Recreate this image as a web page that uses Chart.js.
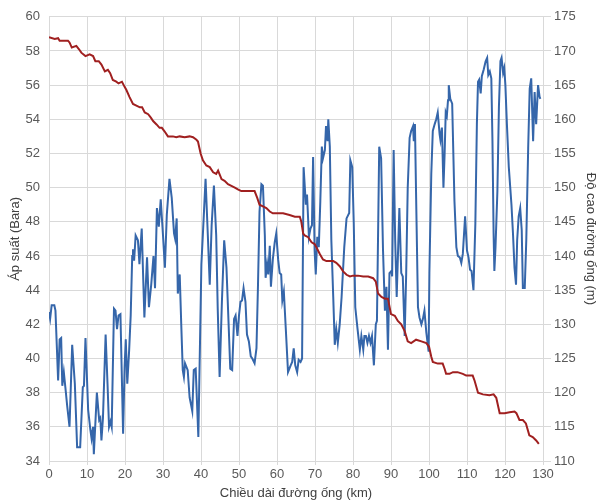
<!DOCTYPE html>
<html>
<head>
<meta charset="utf-8">
<script src="https://cdn.jsdelivr.net/npm/chart.js@4.4.1/dist/chart.umd.min.js"></script>
<style>
  html, body { margin: 0; padding: 0; background: #fff; }
  #wrap { width: 598px; height: 504px; position: relative; }
</style>
</head>
<body>
<div id="wrap"><canvas id="myChart"></canvas></div>
<script>
// pressure along the pipe (left axis, bar)
const pressureKm = [0, 1.5, 2.4, 2.8, 3.7, 5, 5.4, 6, 7.2, 7.9, 8.5, 9.6, 10.7, 11.6, 12.2, 13.1, 13.8, 14.7, 15.5, 16.1,
  16.8, 17.7, 18.3, 19.2, 19.9, 20.4, 21.2, 22.1, 23, 23.9, 24.5, 25.2, 26.1, 26.8, 27.4, 28.3, 29.1, 29.7, 30.4, 31.3,
  32.6, 33.5, 34.4, 35.7, 37, 37.9, 38.8, 39.2, 39.9, 40.5, 41.4, 42.3, 43.2, 44, 44.5, 45.4, 46.2, 47.1, 48, 48.9,
  49.7, 50.6, 51.5, 52.8, 54.1, 54.8, 55.4, 56.3, 57.2, 58.1, 58.9, 60.3, 61.6, 63.3, 64.7, 66, 66.4, 66.9, 67.3, 68.2,
  69.1, 69.9, 70.4, 71.3, 72.1, 73, 73.9, 74.8, 75.6, 76.5, 77.4, 78.3, 79.2, 80, 81.3, 82.7, 84, 85.3, 86, 86.6,
  87.5, 88.4, 89.2, 90, 91, 91.8, 92.7, 93.6, 94.4, 95.3, 96.6, 98, 99.3, 100, 100.6, 101, 102.3, 103.6, 104.1, 104.5,
  105.4, 106.3, 107.5, 108.9, 109.8, 111.5, 112, 112.9, 114.2, 115.9, 117, 117.7, 118.6, 119.9, 121.2, 122.5, 123, 123.8, 124.7, 125.5,
  126.4, 127.3, 128.2, 128.9];
const pressureBar = [58.8, 58.7, 58.75, 58.6, 58.6, 58.6, 58.5, 58.2, 58.3, 58.1, 57.9, 57.7, 57.8, 57.7, 57.4, 57.4, 57.2, 56.8, 56.9, 56.7,
  56.3, 56.2, 56.1, 56.2, 55.9, 55.7, 55.3, 54.9, 54.8, 54.7, 54.7, 54.4, 54.3, 54.1, 53.9, 53.7, 53.5, 53.5, 53.3, 53,
  53, 52.95, 53, 52.95, 53, 52.95, 52.8, 52.7, 52, 51.6, 51.3, 51.2, 50.9, 50.8, 51, 50.5, 50.4, 50.2, 50.1, 50,
  49.9, 49.8, 49.8, 49.8, 49.8, 49.4, 49, 48.9, 48.8, 48.6, 48.5, 48.5, 48.5, 48.4, 48.3, 48.3, 48, 47.3, 47.2, 47.1,
  46.8, 46.7, 46.5, 46.1, 45.8, 45.7, 45.7, 45.7, 45.6, 45.4, 45.1, 44.9, 44.8, 44.85, 44.85, 44.8, 44.8, 44.7, 44.5, 43.8,
  43.6, 43.5, 43.5, 42.6, 42.5, 42.2, 42, 41.6, 41, 40.9, 41.1, 41, 40.9, 40.7, 40.1, 39.8, 39.7, 39.7, 39.4, 39.1,
  39.1, 39.2, 39.2, 39.1, 39, 39, 38.7, 38, 37.9, 37.85, 37.9, 37.7, 36.8, 36.8, 36.85, 36.9, 36.8, 36.4, 36.4, 36.2,
  35.5, 35.4, 35.2, 35];

// pipeline elevation (right axis, m)
const elevationKm = [0, 0.3, 0.7, 1.4, 1.7, 2.4, 2.8, 3.2, 3.5, 3.9, 4.3, 4.8, 5.4, 6.1, 6.8, 7.4, 8.2, 8.9, 9.2, 9.6,
  10.3, 10.9, 11.2, 11.6, 11.8, 12.6, 13.2, 13.5, 13.8, 14.2, 14.9, 15.4, 15.8, 16.2, 16.5, 17.1, 17.5, 17.9, 18.3, 18.8,
  19.5, 19.9, 20.2, 20.6, 21.1, 21.5, 21.9, 22.1, 22.4, 22.8, 23.4, 23.8, 24.4, 25.1, 25.8, 26.3, 26.9, 27.5, 27.9, 28.4,
  28.9, 29.4, 30, 30.5, 31, 31.7, 32.3, 32.9, 33.2, 33.6, 33.9, 34.4, 34.8, 35.2, 35.5, 35.8, 36.5, 37, 37.7, 38.1,
  38.6, 39.3, 40.1, 40.7, 41.2, 41.8, 42.3, 42.8, 43.4, 44, 44.4, 44.9, 45.5, 46.1, 46.7, 47.3, 47.7, 48.2, 48.7, 49.1,
  49.6, 50, 50.4, 50.8, 51.2, 51.7, 52.1, 52.6, 53.1, 53.5, 54.1, 54.6, 55, 55.4, 55.9, 56.3, 56.8, 57, 57.4, 57.7,
  58.1, 58.4, 58.9, 59.4, 59.8, 60.3, 60.7, 61.1, 61.4, 61.8, 62.3, 62.9, 63.6, 64, 64.4, 64.8, 65.3, 65.7, 66.2, 66.6,
  67, 67.6, 67.9, 68.4, 68.8, 69.2, 69.5, 69.9, 70.2, 70.6, 71, 71.4, 71.8, 72.1, 72.6, 72.9, 73.3, 73.5, 73.9, 74.3,
  74.8, 75.2, 75.6, 76, 76.5, 77, 77.7, 78.3, 79, 79.3, 79.8, 80.2, 80.6, 81.2, 81.8, 82.2, 82.7, 83, 83.4, 83.8,
  84.2, 84.6, 85, 85.5, 86, 86.3, 86.9, 87.4, 87.9, 88.4, 88.8, 89.2, 89.6, 90.1, 90.3, 90.7, 91.1, 91.5, 92.2, 92.7,
  93.1, 93.6, 94, 94.4, 94.9, 95.3, 95.8, 96, 96.3, 96.6, 97.1, 97.5, 98, 98.4, 98.8, 99.3, 99.9, 100.1, 100.6, 101,
  101.5, 101.9, 102.3, 102.8, 103, 103.4, 103.8, 104.1, 104.4, 104.7, 105, 105.2, 105.6, 106.1, 106.7, 107.2, 107.6, 108.1, 108.5, 108.9,
  109.5, 110, 110.4, 110.8, 111.2, 111.7, 112.2, 112.6, 112.9, 113.2, 113.6, 113.9, 114.4, 114.9, 115.3, 115.6, 116, 116.4, 116.7, 117,
  117.2, 117.5, 118, 118.4, 118.8, 119.1, 119.5, 119.8, 120.1, 120.5, 121, 121.7, 122.1, 122.5, 122.9, 123.2, 123.6, 124, 124.4, 124.7,
  125.2, 125.6, 126.1, 126.5, 126.9, 127.4, 127.8, 128.2, 128.7, 129.1, 129.3];
const elevationM = [131.8, 130.8, 132.8, 132.8, 132, 121.8, 127.8, 128, 121, 123, 120.8, 118, 115, 127, 121.3, 112, 112, 120.8, 121, 128,
  117.5, 114.5, 113.3, 115, 111, 120, 116, 116.3, 113, 116.3, 128.5, 121.3, 115, 115.8, 115, 132.3, 132, 129.3, 131.3, 131.5,
  114, 123.8, 127.8, 121.3, 126.3, 131.3, 140, 141, 139.3, 143, 142.3, 138.8, 144, 131, 139.8, 132.5, 135.8, 140, 135.3, 147,
  144.3, 148.3, 143, 138.3, 146, 151.3, 148.5, 143.3, 142.5, 145.5, 134.5, 137.3, 130, 123.3, 122.3, 124.3, 123.3, 119.3, 117.3, 123.3,
  123.5, 113.5, 138.8, 145.5, 151.3, 143, 135.8, 144.5, 150.3, 143, 132.3, 122.3, 133.3, 142.3, 138.3, 129.5, 123.5, 123.3, 130.8, 131.3,
  128.3, 131.3, 133.3, 133.5, 135.3, 133.3, 128.5, 127.5, 125.3, 125, 124.3, 126.5, 135.8, 146.5, 150.5, 150.3, 143, 136.8, 138.8, 137.3,
  141.5, 135.5, 139.5, 142, 143.3, 139.5, 137.5, 137.3, 133.5, 134.8, 129.5, 123, 124, 124.5, 126.5, 124, 123, 124.8, 124.5, 125,
  153, 147.5, 149, 142.8, 144, 144.5, 154.5, 140.8, 137.3, 142.8, 141.3, 148, 156, 154.3, 155.5, 159, 156.8, 160, 156, 142.3,
  134, 127, 129.3, 127.3, 130, 134, 141.3, 145.5, 146.3, 154, 153, 144.8, 132.5, 129.3, 126.3, 128.3, 126.3, 128.3, 128.3, 127.3,
  128.3, 127.3, 128.3, 124, 130, 130.5, 156, 154.3, 140.8, 132, 135.5, 126.3, 137.5, 137.8, 137, 155.5, 142.3, 134, 147, 137.5,
  137, 128.3, 137.5, 150, 157.3, 158.3, 159, 156.8, 159.3, 149, 132.5, 131, 130, 130.8, 132, 128.8, 126, 137.5, 152, 158.3,
  159.3, 160, 161, 157.8, 157, 158.8, 150, 154.8, 161, 160.5, 162.8, 165, 163, 162.3, 148, 141.3, 140, 139.8, 139, 140.3,
  145.8, 140.8, 139.8, 138, 137.8, 135, 144.8, 159.3, 165.5, 165.8, 163.8, 166.3, 167.3, 168.5, 169, 166.5, 167, 166, 156.8, 143.3,
  137.8, 141.3, 149.5, 161.8, 168.5, 169, 166.8, 167.5, 165, 159.3, 153, 147.5, 143.3, 138.3, 135.8, 142.3, 145.8, 147, 143.8, 135.3,
  135.3, 142.3, 155.8, 164.5, 166, 156.8, 164, 159.3, 165, 163.3, 163];

const kmTicks = { min: 0, max: 130, step: 10 };
const barTicks = { min: 34, max: 60, step: 2 };
const elevTicks = { min: 110, max: 175, step: 5 };

const pressurePts = pressureKm.map((k, i) => ({ x: k, y: pressureBar[i] }));
const elevationPts = elevationKm.map((k, i) => ({ x: k, y: elevationM[i] }));

const gridColor = '#d9d9d9';
const textColor = '#595959';
const font = { family: "'Liberation Sans', Arial, sans-serif", size: 13 };
const titleFont = { family: "'Liberation Sans', Arial, sans-serif", size: 13 };

const ctx = document.getElementById('myChart');

const myChart = new Chart(ctx, {
    type: 'line',
    data: {
        datasets: [{
            label: 'Độ cao đường ống',
            data: elevationPts,
            yAxisID: 'y1',
            borderColor: '#3566aa',
            borderWidth: 2,
            pointRadius: 0,
            tension: 0,
            order: 2
        }, {
            label: 'Áp suất',
            data: pressurePts,
            yAxisID: 'y',
            borderColor: '#a02020',
            borderWidth: 2,
            pointRadius: 0,
            tension: 0,
            order: 1
        }]
    },
    options: {
        responsive: true,
        maintainAspectRatio: false,
        animation: false,
        layout: { padding: { top: 14, right: 0, left: 6, bottom: 2 } },
        plugins: { legend: { display: false }, tooltip: { enabled: false } },
        scales: {
            x: {
                type: 'linear',
                min: kmTicks.min,
                max: kmTicks.max,
                afterFit: (scale) => { scale.height = 41; },
                ticks: { stepSize: kmTicks.step, color: textColor, font: font, maxRotation: 0, padding: 2 },
                grid: { color: gridColor, tickLength: 4 },
                border: { color: gridColor },
                title: { display: true, text: 'Chiều dài đường ống (km)', color: '#404040', font: titleFont, padding: { top: 3, bottom: 1 } }
            },
            y: {
                position: 'left',
                min: barTicks.min,
                max: barTicks.max,
                afterFit: (scale) => { scale.width = 43; },
                ticks: { stepSize: barTicks.step, color: textColor, font: font, padding: 9 },
                grid: { color: gridColor, drawTicks: false },
                border: { color: gridColor },
                title: { display: true, text: 'Áp suất (Bara)', color: '#404040', font: titleFont, padding: { top: 2, bottom: 2 } }
            },
            y1: {
                position: 'right',
                min: elevTicks.min,
                max: elevTicks.max,
                afterFit: (scale) => { scale.width = 55; },
                ticks: { stepSize: elevTicks.step, color: textColor, font: font, padding: 3 },
                grid: { drawOnChartArea: false, color: gridColor, tickLength: 8 },
                border: { color: gridColor },
                title: { display: true, text: 'Độ cao đường ống (m)', color: '#404040', font: titleFont, padding: { top: 0, bottom: 6 } }
            }
        }
    }
});
</script>
</body>
</html>
